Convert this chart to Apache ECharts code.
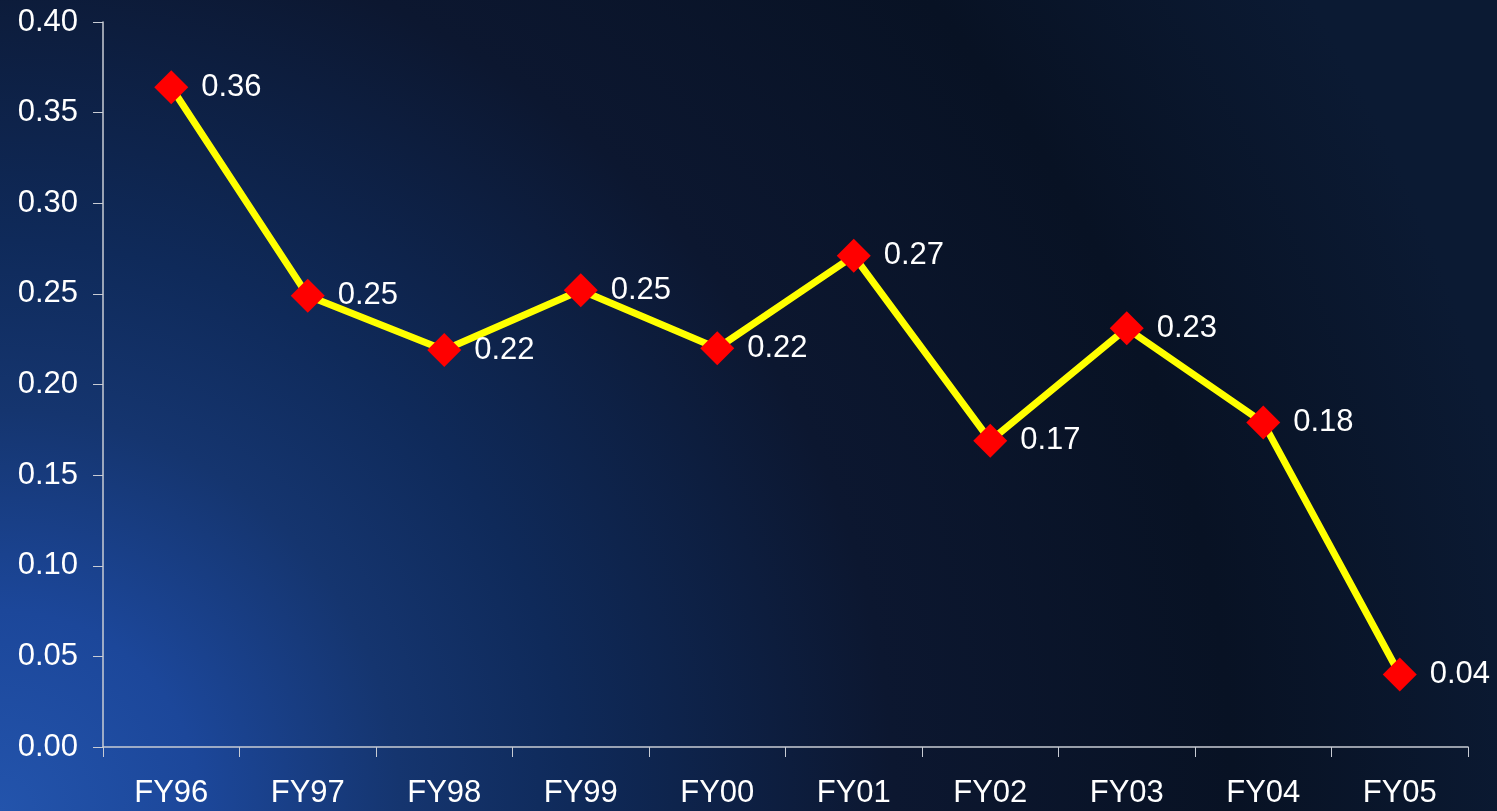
<!DOCTYPE html>
<html>
<head>
<meta charset="utf-8">
<title>FY96-FY05</title>
<script src="https://cdn.jsdelivr.net/npm/echarts@6/dist/echarts.min.js"></script>
<style>
    html, body { margin: 0; padding: 0; background: #0b1730; }
    #main { width: 1497px; height: 811px; }
</style>
</head>
<body>
<div id="main"></div>
<script>
// 数据
var categories = ['FY96', 'FY97', 'FY98', 'FY99', 'FY00', 'FY01', 'FY02', 'FY03', 'FY04', 'FY05'];
var values = [0.364, 0.249, 0.219, 0.252, 0.220, 0.271, 0.169, 0.231, 0.179, 0.040];
var yTicks = [0, 0.05, 0.10, 0.15, 0.20, 0.25, 0.30, 0.35, 0.40];

var myChart = echarts.init(document.getElementById('main'));
var font = 'Liberation Sans, Arial, sans-serif';

var option = {
    animation: false,
    // 背景：左下角偏亮的蓝色渐变
    backgroundColor: {
        type: 'radial',
        x: 0, y: 1, r: 1.9,
        colorStops: [
            { offset: 0, color: '#2354ac' },
            { offset: 0.13, color: '#1c479a' },
            { offset: 0.26, color: '#15356f' },
            { offset: 0.37, color: '#0f2a5a' },
            { offset: 0.58, color: '#0c1730' },
            { offset: 0.8, color: '#081224' },
            { offset: 1, color: '#0b1a33' }
        ]
    },
    grid: { left: 103, right: 29, top: 22, bottom: 64 },
    xAxis: {
        type: 'category',
        data: categories,
        boundaryGap: true,
        axisLine: { lineStyle: { color: '#c8ccd4', width: 1.5 } },
        axisTick: { show: true, length: 10, inside: false, lineStyle: { color: '#c8ccd4' } },
        axisLabel: { color: '#ffffff', fontSize: 31, fontFamily: font, margin: 31 },
        splitLine: { show: false }
    },
    yAxis: {
        type: 'value',
        min: yTicks[0],
        max: yTicks[yTicks.length - 1],
        interval: 0.05,
        axisLine: { show: true, lineStyle: { color: '#c8ccd4', width: 1.5 } },
        axisTick: { show: true, length: 10, lineStyle: { color: '#c8ccd4' } },
        axisLabel: {
            color: '#ffffff', fontSize: 31, fontFamily: font, margin: 25,
            formatter: function (v) { return v.toFixed(2); }
        },
        splitLine: { show: false }
    },
    series: [{
        type: 'line',
        data: values,
        symbol: 'diamond',
        symbolSize: 34,
        lineStyle: { color: '#ffff00', width: 7 },
        itemStyle: { color: '#ff0000' },
        label: {
            show: true,
            position: 'right',
            distance: 13,
            color: '#ffffff',
            fontSize: 31,
            fontFamily: font,
            formatter: function (p) { return p.value.toFixed(2); }
        }
    }]
};
myChart.setOption(option);
</script>
</body>
</html>
